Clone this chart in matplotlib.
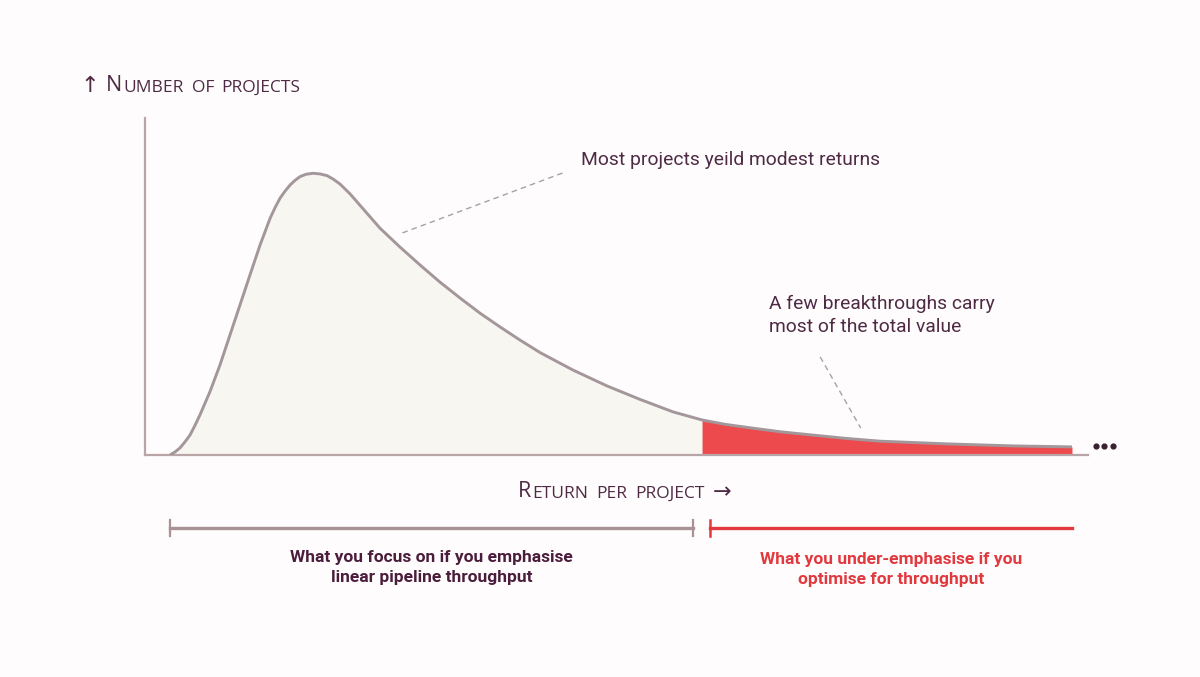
import numpy as np
import matplotlib

matplotlib.use("Agg")
import matplotlib.pyplot as plt
import matplotlib.transforms as mtransforms


# return per project (x) vs number of projects (y)
ret = [0.265, 0.318, 0.371, 0.424, 0.477, 0.530, 0.583, 0.689, 0.795, 0.901,
       1.007, 1.113, 1.220, 1.326, 1.379, 1.432, 1.485, 1.538, 1.591, 1.644,
       1.707, 1.782, 1.856, 1.930, 1.994, 2.068, 2.174, 2.280, 2.386, 2.492,
       2.704, 2.916, 3.128, 3.340, 3.552, 3.765, 3.977, 4.189, 4.539, 4.899,
       5.249, 5.599, 5.907, 6.151, 6.384, 6.734, 7.084, 7.444, 7.794, 8.505,
       9.205, 9.830]
count = [0.0, 0.9, 2.1, 3.9, 5.9, 8.8, 11.9, 18.8, 26.7, 35.6,
         44.5, 53.4, 62.3, 70.2, 73.4, 76.2, 78.3, 80.1, 81.5, 82.6,
         83.3, 83.6, 83.4, 82.9, 81.9, 80.4, 77.5, 74.1, 70.7, 67.3,
         61.7, 56.4, 51.3, 46.6, 42.1, 38.0, 34.1, 30.4, 25.2, 20.5,
         16.5, 12.8, 10.4, 9.1, 8.2, 6.9, 5.9, 4.9, 4.1, 3.3,
         2.7, 2.4]
TAIL_START = 5.907

Y_LABEL = "Number of projects"
X_LABEL = "Return per project"
NOTE_BODY = "Most projects yeild modest returns"
NOTE_TAIL = "A few breakthroughs carry\nmost of the total value"
FOCUS_TXT = "What you focus on if you emphasise\nlinear pipeline throughput"
UNDER_TXT = "What you under-emphasise if you\noptimise for throughput"

BG = "#fefcfc"
AXIS_C = "#b9a5a8"
CURVE_C = "#a3979b"
CREAM = "#f8f6f1"
RED = "#ec4a4c"
PLUM = "#4e2a44"
DARK = "#4b1d3c"
RED_TXT = "#e2393f"
LEADER_C = "#a5a2a3"

CAPS = ["Open Sans", "DejaVu Sans"]
SANS = ["Roboto", "DejaVu Sans"]


def small_caps_label(ax, x, y, label, big, small, transform, color):
    """fake small caps: first letter big, the rest upper-cased at smaller size"""
    words = label.split()
    t = ax.text(x, y, words[0][0].upper(), transform=transform, fontsize=big,
                family=CAPS, color=color, va="baseline", ha="left")
    prev = ax.annotate(words[0][1:].upper(), xy=(1, 0), xycoords=t,
                       xytext=(1.0, 0), textcoords="offset points",
                       fontsize=small, family=CAPS, color=color,
                       va="bottom", ha="left")
    for w in words[1:]:
        prev = ax.annotate(w.upper(), xy=(1, 0), xycoords=prev, xytext=(5.5, 0),
                           textcoords="offset points", fontsize=small,
                           family=CAPS, color=color, va="bottom", ha="left")
    return prev


x = np.array(ret)
y = np.array(count)

fig = plt.figure(figsize=(12, 6.77), dpi=100, facecolor=BG)
W, H = 1200, 677
ax = fig.add_axes([145 / W, (H - 455) / H, (1088 - 145) / W, (455 - 118) / H])
ax.set_facecolor(BG)
ax.set_xlim(0, 10)
ax.set_ylim(0, 100)

body = x <= TAIL_START
tail = x >= TAIL_START
ax.fill_between(x[body], 0, y[body], color=CREAM, lw=0, zorder=1)
ax.fill_between(x[tail], 0, y[tail], color=RED, lw=0, zorder=1)
ax.plot(x, y, color=CURVE_C, lw=2.1, solid_joinstyle="round",
        solid_capstyle="butt", zorder=3)

for s in ("top", "right"):
    ax.spines[s].set_visible(False)
for s in ("left", "bottom"):
    ax.spines[s].set_color(AXIS_C)
    ax.spines[s].set_linewidth(1.6)
ax.set_xticks([])
ax.set_yticks([])

# leaders
ax.plot([2.73, 4.43], [65.9, 83.7], color=LEADER_C, lw=1, ls=(0, (4, 3)), zorder=2)
ax.plot([7.16, 7.59], [29.1, 8.0], color=LEADER_C, lw=1, ls=(0, (4, 3)), zorder=2)
ax.text(4.62, 87.6, NOTE_BODY, family=SANS, fontsize=13.9, color=PLUM,
        va="center", ha="left")
ax.text(6.62, 41.4, NOTE_TAIL, family=SANS, fontsize=13.9, color=PLUM,
        va="center", ha="left", linespacing=1.35)

# more beyond the edge
ax.scatter([10.08, 10.17, 10.26], [2.7, 2.7, 2.7], s=12, color="#3a2030",
           clip_on=False, zorder=4)

# axis titles
fig.text(80 / W, (H - 92) / H, "↑", fontsize=16, family=["DejaVu Sans"],
         color=PLUM, va="baseline", ha="left")
small_caps_label(ax, 106 / W, (H - 91) / H, Y_LABEL, 15.5, 12.5, fig.transFigure, PLUM)

last = small_caps_label(ax, 518 / W, (H - 497) / H, X_LABEL, 15.5, 12.5,
                        fig.transFigure, PLUM)
ax.annotate("→", xy=(1, 0), xycoords=last, xytext=(6, 0),
            textcoords="offset points", fontsize=16, family=["DejaVu Sans"],
            color=PLUM, va="bottom", ha="left")

# brackets under the axis
trans = mtransforms.blended_transform_factory(ax.transData, ax.transAxes)
by, tick = -0.217, 0.024
l0, l1 = ret[0], TAIL_START - 0.1
r0, r1 = TAIL_START + 0.08, ret[-1]
ax.plot([l0, l1], [by, by], color="#a89296", lw=2.4, transform=trans, clip_on=False)
for xx in (l0, l1):
    ax.plot([xx, xx], [by - tick, by + tick], color="#a89296", lw=1.6,
            transform=trans, clip_on=False)
ax.plot([r0, r1], [by, by], color=RED_TXT, lw=2.4, transform=trans, clip_on=False)
ax.plot([r0, r0], [by - tick, by + tick], color=RED_TXT, lw=1.8,
        transform=trans, clip_on=False)

ax.text((l0 + l1) / 2, -0.334, FOCUS_TXT, transform=trans, ha="center",
        va="center", family=SANS, fontsize=12.5, fontweight="bold", color=DARK,
        linespacing=1.35)
ax.text((r0 + r1) / 2, -0.340, UNDER_TXT, transform=trans, ha="center",
        va="center", family=SANS, fontsize=12.5, fontweight="bold", color=RED_TXT,
        linespacing=1.35)

fig.savefig("out.png", dpi=100, facecolor=BG)
